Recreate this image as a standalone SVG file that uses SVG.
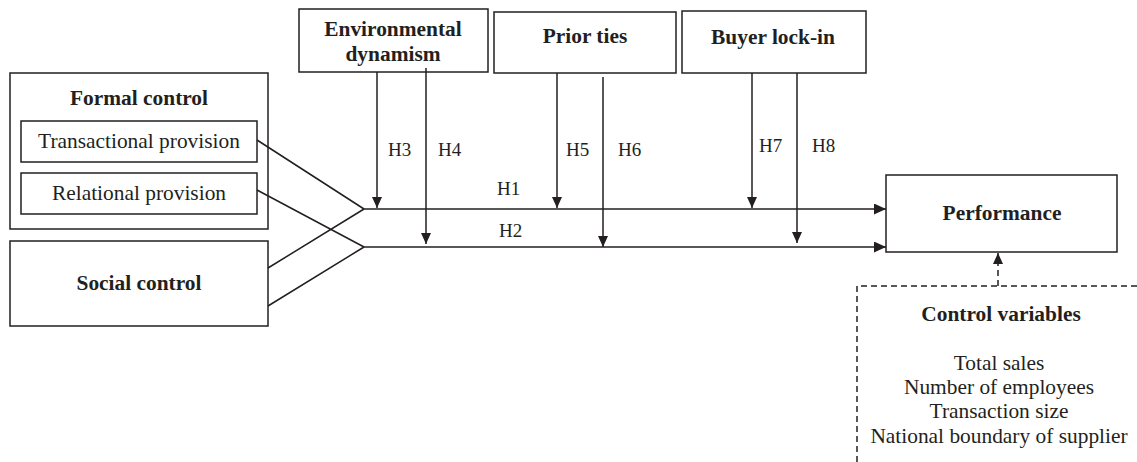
<svg xmlns="http://www.w3.org/2000/svg" width="1137" height="462" viewBox="0 0 1137 462">
<style>
  .box { fill: #fff; stroke: #231f20; stroke-width: 1.5; }
  .t { font-family: "Liberation Serif", "Times New Roman", Times, serif; font-size: 21.4px; fill: #231f20; text-anchor: middle; }
  .b { font-weight: bold; }
  .h { font-family: "Liberation Serif", "Times New Roman", Times, serif; font-size: 19px; fill: #231f20; }
  .ln { fill: none; stroke: #231f20; stroke-width: 1.5; }
  .dash { fill: none; stroke: #231f20; stroke-width: 1.5; stroke-dasharray: 6 4; }
</style>
<defs>
  <marker id="ah" viewBox="0 0 10 10" refX="10" refY="5" markerWidth="11" markerHeight="10" markerUnits="userSpaceOnUse" orient="auto" preserveAspectRatio="none">
    <path d="M0,0 L10,5 L0,10 z" fill="#231f20"/>
  </marker>
  <marker id="ahl" viewBox="0 0 10 10" refX="10" refY="5" markerWidth="12" markerHeight="11" markerUnits="userSpaceOnUse" orient="auto" preserveAspectRatio="none">
    <path d="M0,0 L10,5 L0,10 z" fill="#231f20"/>
  </marker>
</defs>
<rect width="1137" height="462" fill="#fff"/>

<g id="formal-control">
  <rect class="box" x="10" y="73" width="258" height="156"/>
  <text class="t b" x="139" y="105">Formal control</text>
</g>
<g id="transactional-provision">
  <rect class="box" x="21" y="121" width="236" height="41"/>
  <text class="t" x="139" y="148">Transactional provision</text>
</g>
<g id="relational-provision">
  <rect class="box" x="21" y="173" width="236" height="41"/>
  <text class="t" x="139" y="200">Relational provision</text>
</g>
<g id="social-control">
  <rect class="box" x="10" y="241" width="258" height="85"/>
  <text class="t b" x="139" y="290">Social control</text>
</g>
<g id="environmental-dynamism">
  <rect class="box" x="299" y="9" width="189" height="63"/>
  <text class="t b" x="393" y="36">Environmental</text>
  <text class="t b" x="393" y="61">dynamism</text>
</g>
<g id="prior-ties">
  <rect class="box" x="494" y="12" width="182" height="61"/>
  <text class="t b" x="585" y="43">Prior ties</text>
</g>
<g id="buyer-lock-in">
  <rect class="box" x="682" y="11" width="184" height="62"/>
  <text class="t b" x="773" y="44">Buyer lock-in</text>
</g>
<g id="performance">
  <rect class="box" x="886" y="175" width="231" height="77"/>
  <text class="t b" x="1002" y="220">Performance</text>
</g>
<g id="control-variables">
  <path class="dash" d="M857,462 L857,286 L1137,286"/>
  <text class="t b" x="1001" y="321">Control variables</text>
  <text class="t" x="999" y="370">Total sales</text>
  <text class="t" x="999" y="394">Number of employees</text>
  <text class="t" x="999" y="418">Transaction size</text>
  <text class="t" x="999" y="443">National boundary of supplier</text>
</g>

<g id="connectors">
  <path class="ln" d="M257,140 L364,209 M257,190 L364,247 M268,268 L364,209 M268,306 L364,247"/>
  <path class="ln" d="M364,209 L886,209" marker-end="url(#ahl)"/>
  <path class="ln" d="M364,247 L886,247" marker-end="url(#ahl)"/>
  <path class="ln" d="M377,72 L377,208" marker-end="url(#ah)"/>
  <path class="ln" d="M426,68 L426,244" marker-end="url(#ah)"/>
  <path class="ln" d="M557,73 L557,208" marker-end="url(#ah)"/>
  <path class="ln" d="M603,77 L603,247" marker-end="url(#ah)"/>
  <path class="ln" d="M752,73 L752,208" marker-end="url(#ah)"/>
  <path class="ln" d="M797,73 L797,243" marker-end="url(#ah)"/>
  <path class="dash" d="M998,286 L998,253" marker-end="url(#ah)"/>
  <text class="h" x="388" y="156">H3</text>
  <text class="h" x="438" y="156">H4</text>
  <text class="h" x="566" y="156">H5</text>
  <text class="h" x="618" y="156">H6</text>
  <text class="h" x="759" y="152">H7</text>
  <text class="h" x="812" y="152">H8</text>
  <text class="h" x="497" y="195">H1</text>
  <text class="h" x="499" y="237">H2</text>
</g>
</svg>
